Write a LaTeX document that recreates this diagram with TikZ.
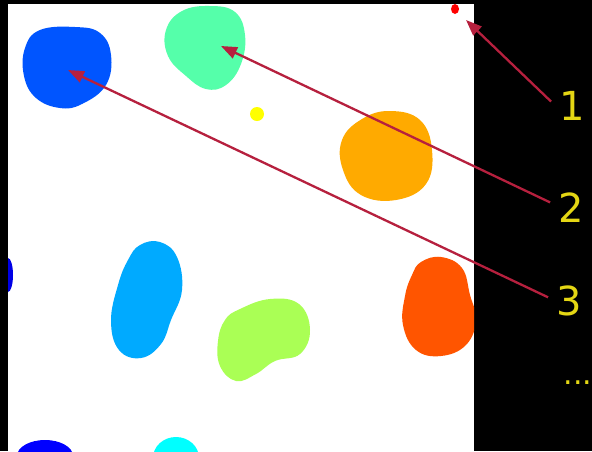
\documentclass[tikz,border=0pt]{standalone}
\usepackage{fontspec}
\setmainfont{DejaVu Sans}
\usetikzlibrary{arrows.meta, positioning}

\definecolor{arrowred}{RGB}{182,32,62}
\definecolor{labelyellow}{RGB}{228,214,20}
\definecolor{blobblue}{RGB}{0,85,255}
\definecolor{blobmint}{RGB}{85,255,170}
\definecolor{bloborange}{RGB}{255,170,0}
\definecolor{blobsky}{RGB}{0,170,255}
\definecolor{bloblime}{RGB}{170,255,85}
\definecolor{blobred}{RGB}{255,85,0}
\definecolor{blobcyan}{RGB}{0,255,255}
\definecolor{blobdeep}{RGB}{0,0,230}
\definecolor{dotyellow}{RGB}{255,255,0}

\begin{document}
\begin{tikzpicture}[
    x=1pt, y=-1pt,
    arr/.style={draw=arrowred, line width=2.3pt, -{Triangle[length=16pt, width=12pt]}},
    num/.style={text=labelyellow, font=\fontsize{40}{40}\selectfont, inner sep=8pt}
]

% background and image area
\fill[black] (0,0) rectangle (592,451);
\useasboundingbox (0,0) rectangle (592,451);
\fill[white] (8,4) rectangle (474,451);

\begin{scope}
\clip (8,4) rectangle (474,451);
% labelled blobs
\fill[blobblue] plot[smooth cycle, tension=0.7] coordinates {(40,30) (75,27) (100,33) (111,55) (106,85) (82,104) (60,108) (36,98) (24,76) (25,48)};
\fill[blobmint] plot[smooth cycle, tension=0.7] coordinates {(182,11) (210,6) (235,12) (245,35) (241,64) (226,85) (206,89) (186,76) (168,56) (166,30)};
\fill[bloborange] plot[smooth cycle, tension=0.7] coordinates {(362,119) (390,111) (420,120) (432,150) (426,184) (396,200) (361,195) (343,170) (342,140)};
\fill[blobsky] plot[smooth cycle, tension=0.7] coordinates {(140,245) (160,242) (177,257) (182,290) (171,320) (161,344) (141,358) (119,350) (111,321) (118,285) (128,260)};
\fill[bloblime] plot[smooth cycle, tension=0.7] coordinates {(240,309) (270,299) (299,304) (310,330) (300,354) (275,361) (256,374) (236,381) (220,366) (218,341) (225,320)};
\fill[blobred] plot[smooth cycle, tension=0.7] coordinates {(421,262) (441,257) (462,268) (470,295) (476,320) (466,345) (441,356) (416,350) (403,325) (405,296) (412,275)};
% small and cut blobs
\fill[red] (455,9) ellipse (4 and 5);
\fill[dotyellow] (257,114) circle (7);
\fill[blobdeep] (8,275) ellipse (5 and 17);
\fill[blue] (45,456) ellipse (28 and 16);
\fill[blobcyan] (176,458) ellipse (23 and 21);
\end{scope}

% labels
\node[num] (n1) at (572,106) {1};
\node[num] (n2) at (571,208) {2};
\node[num] (n3) at (569,301) {3};
\node[text=labelyellow, font=\fontsize{30}{30}\selectfont] (dots) at (578,383) {...};

\coordinate (t1) at (466,20);
\coordinate (t2) at (221,46);
\coordinate (t3) at (68,70);

\draw[arr] (n1.168) -- (t1);
\draw[arr] (n2.165) -- (t2);
\draw[arr] (n3.170) -- (t3);

\end{tikzpicture}
\end{document}
